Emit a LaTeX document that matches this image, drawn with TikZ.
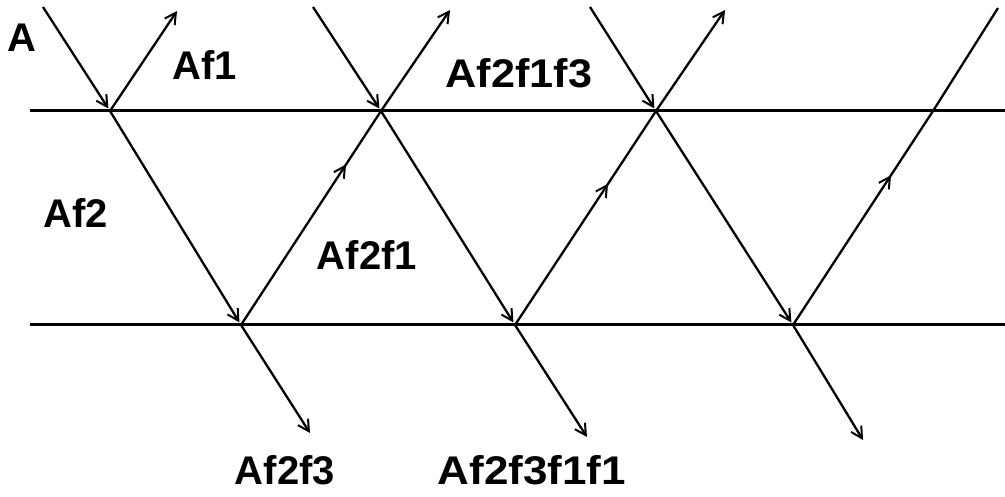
\documentclass[tikz,border=0pt]{standalone}
\usepackage{fontspec}
\setmainfont{Liberation Sans}
\usetikzlibrary{arrows.meta,decorations.markings}
\begin{document}
\begin{tikzpicture}[x=1pt,y=-1pt,
  ray/.style={line width=2.3pt,black},
  tipend/.style={ray,-{Straight Barb[length=11pt,width=12pt,line width=2pt]}},
  tipmid/.style={ray,decoration={markings,mark=at position #1 with {\arrow{Straight Barb[length=11pt,width=12pt,line width=2pt]}}},postaction={decorate}},
  surface/.style={line width=3pt,black},
  lbl/.style={font=\fontsize{40}{44}\selectfont\bfseries,inner sep=0pt,anchor=center}]
\useasboundingbox (0,0) rectangle (1005,497);
\fill[white] (0,0) rectangle (1005,497);
% surfaces
\coordinate (L1) at (30,111);  \coordinate (R1) at (1005,111);
\coordinate (L2) at (30,325);  \coordinate (R2) at (1005,325);
\draw[surface] (L1) -- (R1);
\draw[surface] (L2) -- (R2);
% points of incidence
\coordinate (P1) at (110,111); \coordinate (P2) at (381,111);
\coordinate (P3) at (656,111); \coordinate (P4) at (933,111);
\coordinate (Q1) at (241,325); \coordinate (Q2) at (515,325);
\coordinate (Q3) at (793,325);
% free ends
\coordinate (S1) at (43,7);  \coordinate (S2) at (313,7);  \coordinate (S3) at (590,7);
\coordinate (U1) at (177,11); \coordinate (U2) at (450,10); \coordinate (U3) at (725,10);
\coordinate (U4) at (998,8);
\coordinate (D1) at (310,433); \coordinate (D2) at (587,437); \coordinate (D3) at (863,440);
% incident rays
\draw[tipend,shorten >=3pt] (S1) -- (P1);
\draw[tipend,shorten >=3pt] (S2) -- (P2);
\draw[tipend,shorten >=3pt] (S3) -- (P3);
% reflected upward
\draw[tipend] (P1) -- (U1);
\draw[tipend] (P2) -- (U2);
\draw[tipend] (P3) -- (U3);
\draw[ray] (P4) -- (U4);
% refracted downward inside layer
\draw[tipend,shorten >=3pt] (P1) -- (Q1);
\draw[tipend,shorten >=3pt] (P2) -- (Q2);
\draw[tipend,shorten >=3pt] (P3) -- (Q3);
% reflected upward inside layer
\draw[tipmid=0.75] (Q1) -- (P2);
\draw[tipmid=0.66] (Q2) -- (P3);
\draw[tipmid=0.70] (Q3) -- (P4);
% transmitted below
\draw[tipend] (Q1) -- (D1);
\draw[tipend] (Q2) -- (D2);
\draw[tipend] (Q3) -- (D3);
% labels
\node[lbl] (lA) at (22,38) {A};
\node[lbl] (lAf1) at (205,65) {Af1};
\node[lbl,xscale=1.08] (lAf2f1f3) at (519,73) {Af2f1f3};
\node[lbl] (lAf2) at (76,213) {Af2};
\node[lbl] (lAf2f1) at (367,255) {Af2f1};
\node[lbl] (lAf2f3) at (285,470) {Af2f3};
\node[lbl,xscale=1.1] (lAf2f3f1f1) at (532,470) {Af2f3f1f1};
\end{tikzpicture}
\end{document}
